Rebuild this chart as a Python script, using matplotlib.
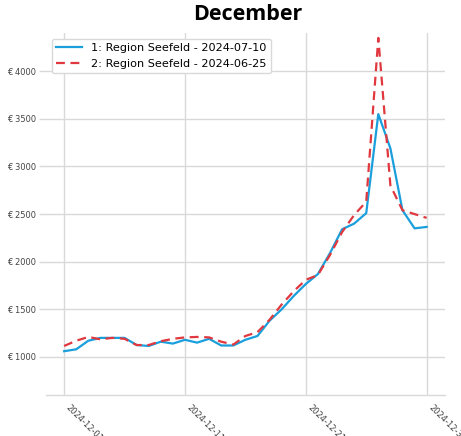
import matplotlib
matplotlib.use("Agg")
import matplotlib.pyplot as plt
import matplotlib.dates as mdates
import numpy as np
import pandas as pd

dates = pd.date_range("2024-12-01", "2024-12-31", freq="D")
label1 = "1: Region Seefeld - 2024-07-10"
label2 = "2: Region Seefeld - 2024-06-25"
series1 = [1060, 1080, 1170, 1200, 1200, 1200, 1125, 1115, 1160, 1140,
           1180, 1150, 1190, 1120, 1120, 1180, 1220, 1380, 1500, 1640,
           1766, 1870, 2090, 2340, 2400, 2510, 3550, 3190, 2540, 2350, 2365]
series2 = [1115, 1170, 1210, 1185, 1200, 1190, 1125, 1125, 1165, 1190,
           1205, 1210, 1205, 1160, 1130, 1220, 1260, 1390, 1550, 1690,
           1810, 1860, 2070, 2310, 2490, 2630, 4350, 2800, 2540, 2500, 2460]
yticks = [1000, 1500, 2000, 2500, 3000, 3500, 4000]
xtick_dates = pd.to_datetime(["2024-12-01", "2024-12-11", "2024-12-21", "2024-12-31"])

fig = plt.figure(figsize=(4.61, 4.36), dpi=100)
ax = fig.add_axes([0.0998, 0.094, 0.865, 0.83])

ax.plot(dates, series1, color="#1a9fdc", lw=1.6, label=label1)
ax.plot(dates, series2, color="#e0383e", lw=1.6, ls=(0, (4, 2.5)), label=label2)

ax.set_ylim(600, 4400)
ax.set_yticks(yticks)
ax.set_yticklabels([f"€ {v}" for v in yticks])
ax.set_xticks(xtick_dates)
ax.xaxis.set_major_formatter(mdates.DateFormatter("%Y-%m-%d"))
for lab in ax.get_xticklabels():
    lab.set_rotation(-45)
    lab.set_ha("left")
    lab.set_va("top")
    lab.set_rotation_mode("default")

ax.grid(True, color="#d9d9d9", lw=1)
ax.set_axisbelow(True)
for s in ["left", "right", "top"]:
    ax.spines[s].set_visible(False)
ax.spines["bottom"].set_color("#d9d9d9")
ax.spines["bottom"].set_linewidth(1)
ax.tick_params(axis="y", length=5, width=1, color="#d9d9d9", labelsize=6, labelcolor="#444444", pad=2)
ax.tick_params(axis="x", length=0, labelsize=6, labelcolor="#444444", pad=6)

ax.legend(loc="upper left", fontsize=8.1, frameon=True, edgecolor="#d9d9d9",
          framealpha=1, fancybox=True, borderpad=0.4, handlelength=2.3)

fig.suptitle("December", x=0.538, y=0.99, fontsize=15.5, fontweight="bold",
             family=["Open Sans", "DejaVu Sans"])

fig.savefig("out.png", dpi=100)
